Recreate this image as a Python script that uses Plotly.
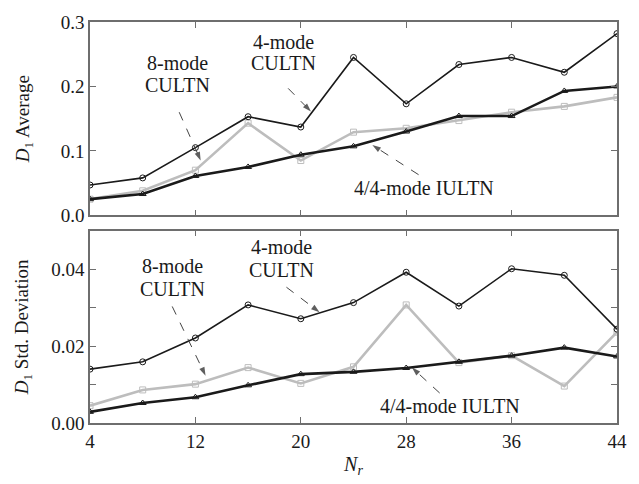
import plotly.graph_objects as go

# Number of receivers
n_r = [4, 8, 12, 16, 20, 24, 28, 32, 36, 40, 44]

# D1 average
avg_4mode = [0.047, 0.058, 0.105, 0.153, 0.137, 0.245, 0.173, 0.234, 0.245, 0.222, 0.282]
avg_8mode = [0.025, 0.038, 0.070, 0.143, 0.085, 0.129, 0.135, 0.147, 0.160, 0.169, 0.183]
avg_iultn = [0.025, 0.033, 0.061, 0.075, 0.094, 0.107, 0.130, 0.154, 0.154, 0.193, 0.200]

# D1 standard deviation
std_4mode = [0.0140, 0.0159, 0.0221, 0.0307, 0.0271, 0.0313, 0.0392, 0.0304, 0.0401, 0.0384, 0.0244]
std_8mode = [0.0045, 0.0086, 0.0101, 0.0144, 0.0103, 0.0146, 0.0307, 0.0157, 0.0175, 0.0096, 0.0236]
std_iultn = [0.0029, 0.0052, 0.0067, 0.0098, 0.0127, 0.0133, 0.0143, 0.0159, 0.0175, 0.0196, 0.0173]

x_ticks = [4, 12, 20, 28, 36, 44]
avg_ticks = [0.0, 0.1, 0.2, 0.3]
avg_labels = ["0.0", "0.1", "0.2", "0.3"]
std_ticks = [0.0, 0.02, 0.04]
std_labels = ["0.00", "0.02", "0.04"]

SERIF = "Liberation Serif, Times New Roman, serif"
INK = "#1a1a1a"
GRAY = "#bdbdbd"
FRAME = "#6e6e6e"

fig = go.Figure()


def add_series(y, xa, ya, color, width, symbol, size):
    fig.add_trace(go.Scatter(
        x=n_r, y=y, xaxis=xa, yaxis=ya, mode="lines+markers",
        line=dict(color=color, width=width),
        marker=dict(symbol=symbol, size=size, color=color,
                    line=dict(color=color, width=1)),
        showlegend=False, hoverinfo="skip"))


# upper panel: averages
add_series(avg_8mode, "x", "y", GRAY, 2.6, "square-open", 6)
add_series(avg_4mode, "x", "y", INK, 1.6, "circle-open", 6)
add_series(avg_iultn, "x", "y", INK, 2.6, "triangle-up-open", 6)
# lower panel: standard deviations
add_series(std_8mode, "x2", "y2", GRAY, 2.6, "square-open", 6)
add_series(std_4mode, "x2", "y2", INK, 1.6, "circle-open", 6)
add_series(std_iultn, "x2", "y2", INK, 2.6, "triangle-up-open", 6)

# callout labels: (lines, x, y of each line, axes)
labels = [
    (["8-mode", "CULTN"], 10.62, [0.236, 0.2015], ("x", "y")),
    (["4-mode", "CULTN"], 18.66, [0.2687, 0.236], ("x", "y")),
    (["4/4-mode IULTN"], 29.34, [0.042], ("x", "y")),
    (["8-mode", "CULTN"], 10.24, [0.04075, 0.03475], ("x2", "y2")),
    (["4-mode", "CULTN"], 18.51, [0.04575, 0.03975], ("x2", "y2")),
    (["4/4-mode IULTN"], 31.29, [0.0045], ("x2", "y2")),
]

# pointers: (start, tip, axes)
pointers = [
    ((10.77, 0.160), (12.40, 0.085), ("x", "y")),
    ((19.04, 0.197), (20.77, 0.161), ("x", "y")),
    ((28.94, 0.063), (25.43, 0.109), ("x", "y")),
    ((10.24, 0.0303), (12.77, 0.0123), ("x2", "y2")),
    ((18.91, 0.0353), (21.42, 0.0288), ("x2", "y2")),
    ((30.54, 0.0078), (28.44, 0.0144), ("x2", "y2")),
]

annotations = []
for lines, tx, tys, (xr, yr) in labels:
    for line, ty in zip(lines, tys):
        annotations.append(dict(
            x=tx, y=ty, xref=xr, yref=yr, text=line, showarrow=False,
            font=dict(family=SERIF, size=20, color=INK)))

for (sx, sy), (ex, ey), (xr, yr) in pointers:
    # dashed shaft ending in a filled arrowhead
    fig.add_trace(go.Scatter(
        x=[sx, ex], y=[sy, ey], xaxis=xr, yaxis=yr,
        mode="lines+markers",
        line=dict(color="#444444", width=1, dash="dash"),
        marker=dict(symbol="arrow", size=[0, 9], angleref="previous",
                    color=INK, line=dict(width=0)),
        showlegend=False, hoverinfo="skip"))

axis_common = dict(
    showgrid=False, zeroline=False, showline=True, linecolor=FRAME,
    linewidth=1.5, mirror="ticks", ticks="inside", ticklen=6,
    tickcolor=FRAME, tickwidth=1,
    tickfont=dict(family=SERIF, size=19, color=INK))

fig.update_layout(
    width=639, height=484,
    margin=dict(l=90, r=17, t=14, b=53),
    paper_bgcolor="white", plot_bgcolor="white",
    font=dict(family=SERIF, color=INK),
    xaxis=dict(axis_common, domain=[0, 1], range=[4, 44], anchor="y",
               tickvals=x_ticks, showticklabels=False),
    yaxis=dict(axis_common, domain=[0.518, 1], range=[0, 0.3], anchor="x",
               tickvals=avg_ticks, ticktext=avg_labels,
               title=dict(text="<i>D</i><sub>1</sub> Average",
                          font=dict(family=SERIF, size=19, color=INK),
                          standoff=26)),
    xaxis2=dict(axis_common, domain=[0, 1], range=[4, 44], anchor="y2",
                tickvals=x_ticks,
                title=dict(text="<i>N</i><sub><i>r</i></sub>",
                           font=dict(family=SERIF, size=20, color=INK),
                           standoff=6)),
    yaxis2=dict(axis_common, domain=[0, 0.4796], range=[0, 0.05], anchor="x2",
                tickvals=std_ticks, ticktext=std_labels,
                minor=dict(dtick=0.01, ticks="inside", ticklen=6,
                           tickcolor=FRAME, tickwidth=1),
                title=dict(text="<i>D</i><sub>1</sub> Std. Deviation",
                           font=dict(family=SERIF, size=19, color=INK),
                           standoff=18)),
    annotations=annotations,
)

fig.write_html("out.html")
